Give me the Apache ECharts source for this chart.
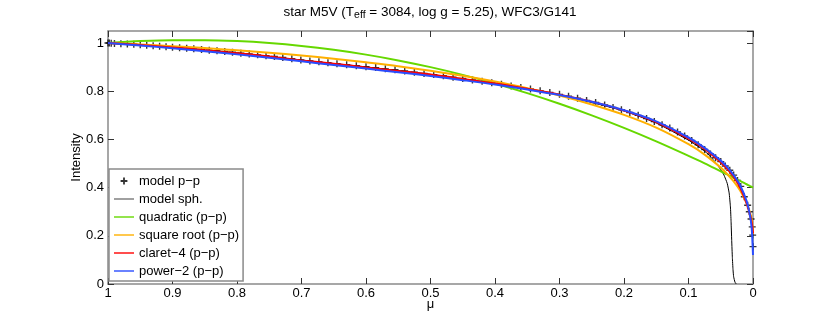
<!DOCTYPE html>
<html>
<head>
<meta charset="utf-8">
<script src="https://cdn.jsdelivr.net/npm/echarts@6/dist/echarts.min.js"></script>
<style>html,body{margin:0;padding:0;background:#fff}#c{width:830px;height:319px}</style>
</head>
<body>
<div id="c"></div>
<script>
// ---- data ----
var seriesNames = ['model p\u2212p', 'model sph.', 'quadratic (p\u2212p)', 'square root (p\u2212p)', 'claret\u22124 (p\u2212p)', 'power\u22122 (p\u2212p)'];
var xTicks = [1, 0.9, 0.8, 0.7, 0.6, 0.5, 0.4, 0.3, 0.2, 0.1, 0];
var yTicks = [0, 0.2, 0.4, 0.6, 0.8, 1];

var muMarkers = [1, 0.998, 0.995, 0.99, 0.98, 0.97, 0.96, 0.95, 0.94, 0.93, 0.92, 0.91, 0.90, 0.889, 0.878, 0.867, 0.855, 0.843, 0.831, 0.819, 0.807, 0.794, 0.781, 0.768, 0.755, 0.742, 0.729, 0.715, 0.701, 0.687, 0.673, 0.659, 0.645, 0.630, 0.615, 0.600, 0.585, 0.570, 0.555, 0.540, 0.525, 0.510, 0.495, 0.480, 0.465, 0.450, 0.435, 0.420, 0.405, 0.390, 0.375, 0.360, 0.345, 0.330, 0.315, 0.300, 0.286, 0.272, 0.258, 0.244, 0.230, 0.217, 0.204, 0.191, 0.178, 0.165, 0.153, 0.141, 0.129, 0.117, 0.106, 0.095, 0.085, 0.075, 0.066, 0.058, 0.050, 0.043, 0.036, 0.030, 0.024, 0.019, 0.0135, 0.0083, 0.0057, 0.003, 0.0012, 0.0005, 0];
var iMarkers = [1.000, 1.000, 0.999, 0.998, 0.997, 0.996, 0.995, 0.993, 0.991, 0.989, 0.987, 0.985, 0.983, 0.981, 0.978, 0.976, 0.973, 0.970, 0.968, 0.965, 0.962, 0.958, 0.955, 0.951, 0.947, 0.944, 0.940, 0.935, 0.930, 0.926, 0.922, 0.918, 0.914, 0.910, 0.906, 0.902, 0.898, 0.893, 0.889, 0.884, 0.879, 0.874, 0.869, 0.864, 0.858, 0.853, 0.847, 0.841, 0.835, 0.829, 0.822, 0.815, 0.809, 0.802, 0.795, 0.787, 0.779, 0.771, 0.762, 0.753, 0.743, 0.733, 0.723, 0.712, 0.700, 0.687, 0.674, 0.661, 0.647, 0.631, 0.614, 0.596, 0.578, 0.558, 0.540, 0.524, 0.508, 0.490, 0.472, 0.452, 0.430, 0.405, 0.362, 0.327, 0.300, 0.270, 0.237, 0.203, 0.155];

var muSph = [1, 0.9, 0.8, 0.7, 0.6, 0.5, 0.4, 0.3, 0.2, 0.15, 0.1, 0.08, 0.07, 0.06, 0.05, 0.045, 0.04, 0.037, 0.035, 0.034, 0.033, 0.032, 0.031, 0.03, 0.028, 0.026];
var iSph = [1.0, 0.982, 0.959, 0.929, 0.901, 0.870, 0.832, 0.786, 0.718, 0.668, 0.597, 0.562, 0.540, 0.510, 0.475, 0.452, 0.418, 0.378, 0.320, 0.260, 0.180, 0.110, 0.060, 0.030, 0.008, 0];

var muFit = [1, 0.95, 0.9, 0.85, 0.8, 0.75, 0.7, 0.65, 0.6, 0.55, 0.5, 0.45, 0.4, 0.35, 0.3, 0.25, 0.2, 0.15, 0.1, 0.075, 0.05, 0.04, 0.03, 0.02, 0.01, 0.005, 0.002, 0];
var iQuad = [1.000, 1.008, 1.012, 1.012, 1.008, 1.000, 0.988, 0.972, 0.952, 0.928, 0.900, 0.868, 0.832, 0.792, 0.748, 0.700, 0.648, 0.592, 0.532, 0.501, 0.468, 0.455, 0.441, 0.428, 0.414, 0.407, 0.403, 0.400];
var iSqrt = [1.000, 0.994, 0.987, 0.979, 0.970, 0.960, 0.948, 0.935, 0.920, 0.904, 0.885, 0.864, 0.840, 0.813, 0.782, 0.745, 0.702, 0.649, 0.580, 0.537, 0.483, 0.456, 0.426, 0.388, 0.337, 0.300, 0.267, 0.207];
var iClaret = [1.000, 0.992, 0.982, 0.970, 0.958, 0.944, 0.928, 0.914, 0.899, 0.884, 0.869, 0.851, 0.832, 0.810, 0.786, 0.757, 0.720, 0.672, 0.603, 0.560, 0.505, 0.478, 0.445, 0.400, 0.335, 0.290, 0.255, 0.210];
var iPower = [1.000, 0.990, 0.978, 0.966, 0.953, 0.939, 0.924, 0.909, 0.894, 0.879, 0.863, 0.846, 0.828, 0.807, 0.784, 0.756, 0.721, 0.675, 0.608, 0.565, 0.512, 0.485, 0.452, 0.410, 0.345, 0.290, 0.230, 0.120];

// ---- chart ----
function pairs(xs, ys) { return xs.map(function (x, i) { return [x, ys[i]]; }); }
var FONT = '"Liberation Sans", Arial, Helvetica, sans-serif';
var plusPath = 'path://M4,0H6V4H10V6H6V10H4V6H0V4H4Z';
var plusLegend = 'path://M0,0M14,14M6.1,3.6H7.9V6.1H10.4V7.9H7.9V10.4H6.1V7.9H3.6V6.1H6.1Z';
var lineLegend = 'path://M0,0M20,14M0,6.3H20V7.7H0Z';
var boxColor = '#8a8a8a';
var tickColor = '#333';

var chart = echarts.init(document.getElementById('c'), null, {renderer: 'canvas'});
var lineBase = {type: 'line', showSymbol: false, symbol: 'none', smooth: 0.3, xAxisIndex: 0, yAxisIndex: 0, animation: false};
var axisLineBase = {show: true, onZero: false, lineStyle: {color: boxColor, width: 1.5}};
var tickBase = {show: true, inside: true, length: 6, lineStyle: {color: tickColor}};

var option = {
  animation: false,
  backgroundColor: '#fff',
  textStyle: {fontFamily: FONT},
  title: {
    text: 'star M5V (T{s|eff} = 3084, log g = 5.25), WFC3/G141',
    left: 430, top: 3, padding: 0, textAlign: 'center',
    textStyle: {fontSize: 13.5, fontWeight: 'normal', color: '#000', fontFamily: FONT,
      rich: {s: {fontSize: 10.5, fontFamily: FONT, color: '#000', padding: [7, 0, 0, 0]}}}
  },
  grid: {left: 108, right: 77, top: 31, bottom: 35, containLabel: false},
  legend: {
    orient: 'vertical', left: 109, top: 169,
    itemWidth: 20, itemHeight: 14, itemGap: 4,
    padding: [5, 4, 3, 5],
    backgroundColor: '#fff', borderColor: '#8a8a8a', borderWidth: 1.5,
    textStyle: {fontSize: 13, color: '#000', fontFamily: FONT, lineHeight: 14},
    data: [
      {name: seriesNames[0], icon: plusLegend, itemStyle: {color: '#000'}},
      {name: seriesNames[1], icon: lineLegend, itemStyle: {color: '#777'}, lineStyle: {color: '#777', width: 1.3}},
      {name: seriesNames[2], icon: lineLegend, lineStyle: {width: 1.4}},
      {name: seriesNames[3], icon: lineLegend, lineStyle: {width: 1.4}},
      {name: seriesNames[4], icon: lineLegend, lineStyle: {width: 1.4}},
      {name: seriesNames[5], icon: lineLegend, lineStyle: {width: 1.4}}
    ]
  },
  xAxis: [
    {type: 'value', min: 0, max: 1, interval: 0.1, inverse: true, position: 'bottom',
     name: '\u03bc', nameLocation: 'middle', nameGap: 14, nameMoveOverlap: false,
     nameTextStyle: {fontSize: 13, color: '#000', fontFamily: FONT, verticalAlign: 'top'},
     axisLine: axisLineBase, axisTick: tickBase,
     axisLabel: {show: true, fontSize: 13, color: '#000', margin: 3, fontFamily: FONT,
       formatter: function (v) { return String(Math.round(v * 10) / 10); }},
     splitLine: {show: false}},
    {type: 'value', min: 0, max: 1, interval: 0.1, inverse: true, position: 'top',
     axisLine: axisLineBase, axisTick: tickBase,
     axisLabel: {show: false}, splitLine: {show: false}}
  ],
  yAxis: [
    {type: 'value', min: 0, max: 1.05, interval: 0.2, position: 'left',
     name: 'Intensity', nameLocation: 'middle', nameGap: 25, nameRotate: 90, nameMoveOverlap: false,
     nameTextStyle: {fontSize: 13, color: '#000', fontFamily: FONT},
     axisLine: axisLineBase, axisTick: tickBase,
     axisLabel: {show: true, fontSize: 13, color: '#000', margin: 4, fontFamily: FONT, showMaxLabel: false,
       formatter: function (v) { return v > 1.001 ? '' : String(Math.round(v * 10) / 10); }},
     splitLine: {show: false}},
    {type: 'value', min: 0, max: 1.05, interval: 0.2, position: 'right',
     axisLine: axisLineBase, axisTick: tickBase,
     axisLabel: {show: false}, splitLine: {show: false}}
  ],
  series: [
    {name: seriesNames[0], type: 'scatter', symbol: plusPath, symbolSize: 7,
     itemStyle: {color: '#000'}, data: pairs(muMarkers, iMarkers), animation: false, z: 2},
    Object.assign({}, lineBase, {name: seriesNames[1], data: pairs(muSph, iSph), smooth: 0.15,
     itemStyle: {color: '#000'}, lineStyle: {color: '#000', width: 1}, z: 3}),
    Object.assign({}, lineBase, {name: seriesNames[2], data: pairs(muFit, iQuad),
     itemStyle: {color: '#66d800'}, lineStyle: {color: '#66d800', width: 2}, z: 4}),
    Object.assign({}, lineBase, {name: seriesNames[3], data: pairs(muFit, iSqrt),
     itemStyle: {color: '#ffb000'}, lineStyle: {color: '#ffb000', width: 2}, z: 5}),
    Object.assign({}, lineBase, {name: seriesNames[4], data: pairs(muFit, iClaret),
     itemStyle: {color: '#ff0000'}, lineStyle: {color: '#ff0000', width: 2}, z: 6}),
    Object.assign({}, lineBase, {name: seriesNames[5], data: pairs(muFit, iPower),
     itemStyle: {color: '#2a4cff'}, lineStyle: {color: '#2a4cff', width: 2}, z: 7})
  ]
};
chart.setOption(option);
</script>
</body>
</html>
